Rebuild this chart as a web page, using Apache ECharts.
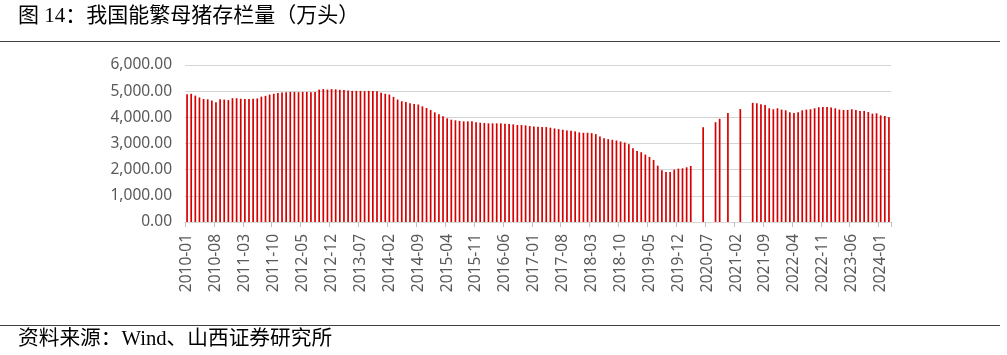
<!DOCTYPE html>
<html>
<head>
<meta charset="utf-8">
<script src="https://cdn.jsdelivr.net/npm/echarts@6/dist/echarts.min.js"></script>
<style>
html,body{margin:0;padding:0;background:#fff;}
#chart{width:1007px;height:355px;}
</style>
</head>
<body>
<div id="chart"></div>
<script>
// Chart texts
const titleText = '图 14：我国能繁母猪存栏量（万头）';
const sourceText = '资料来源：Wind、山西证券研究所';

// Categories: monthly, 2010-01 .. 2024-03
const startYear = 2010, endYear = 2024, endMonth = 3;
const categories = [];
for (let y = startYear; y <= endYear; y++) {
  for (let m = 1; m <= 12; m++) {
    if (y === endYear && m > endMonth) break;
    categories.push(y + '-' + (m < 10 ? '0' + m : '' + m));
  }
}

// Sow inventory (万头)
const values2010to2013 = [
  4880,4900,4830,4760,4700,4690,4640,4580,4690,4680,4660,4730,
  4730,4710,4700,4700,4710,4720,4790,4820,4870,4900,4930,4950,
  4960,4970,4970,4960,4970,4970,4960,4970,5060,5080,5060,5080,
  5070,5050,5040,5030,5010,5010,5010,5000,5010,5010,5000
];
const values2013to2020 = [
  4940,4900,4870,4780,4680,4615,4590,4540,4510,4490,
  4420,4360,4280,4190,4115,4040,3960,3910,3885,3860,
  3846,3846,3846,3808,3795,3782,3770,3770,3770,3770,
  3756,3744,3731,3705,3705,3692,3667,3654,3641,3628,
  3628,3603,3577,3551,3526,3500,3487,3462,3423,3410,
  3410,3397,3359,3269,3205,3167,3141,3115,3077,3038,
  2974,2821,2718,2667,2577,2487,2372,2154,1974,1910,
  1910,2000,2038,2051,2090,2141
];
// 2020-04 .. 2021-05 (missing months are null)
const values2020to2021 = [
  null,null,3620,null,null,3815,3945,null,4165,null,null,4315,null,null
];
// 2021-06 .. 2024-03
const values2021to2024 = [
  4555,4538,4500,4474,4346,4308,4346,4295,4269,4192,
  4167,4192,4269,4295,4308,4346,4385,4397,4397,4372,
  4346,4295,4282,4282,4308,4282,4244,4244,4205,4141,
  4154,4077,4051,4000
];
const sowStock = values2010to2013.concat(values2013to2020, values2020to2021, values2021to2024);

// Y axis ticks
const yMin = 0, yMax = 6000, yStep = 1000;

function fmt(v){
  const s = Math.round(v).toString().replace(/\B(?=(\d{3})+(?!\d))/g, ',');
  return s + '.00';
}

const chart = echarts.init(document.getElementById('chart'), null, {renderer:'canvas'});
chart.setOption({
  animation: false,
  backgroundColor: '#ffffff',
  grid: {left: 185, right: 116, top: 65, bottom: 133, containLabel: false},
  xAxis: {
    type: 'category',
    data: categories,
    boundaryGap: true,
    axisLine: {show: true, lineStyle: {color: '#d9d9d9', width: 1}},
    axisTick: {show: true, interval: 6, length: 5, lineStyle: {color: '#bfbfbf'}},
    axisLabel: {
      interval: 6, rotate: 90, margin: 12,
      color: '#595959', fontFamily: 'Noto Sans', fontSize: 15.5
    },
    splitLine: {show: false}
  },
  yAxis: {
    type: 'value',
    min: yMin, max: yMax, interval: yStep,
    axisLine: {show: false},
    axisTick: {show: false},
    axisLabel: {
      formatter: fmt, margin: 13,
      color: '#595959', fontFamily: 'Noto Sans', fontSize: 15.5
    },
    splitLine: {show: true, lineStyle: {color: '#d4d4d4', width: 1}}
  },
  series: [{
    type: 'bar',
    data: sowStock,
    barWidth: 1.7,
    itemStyle: {color: '#d60000'},
    emphasis: {disabled: true}
  }],
  graphic: [
    {type: 'text', left: 18, top: 6,
     style: {text: titleText, fill: '#000', font: '21px "Liberation Serif", "Noto Sans CJK SC"'}},
    {type: 'line', shape: {x1: 0, y1: 41.5, x2: 1000, y2: 41.5},
     style: {stroke: '#404040', lineWidth: 1}},
    {type: 'line', shape: {x1: 0, y1: 325.5, x2: 1000, y2: 325.5},
     style: {stroke: '#404040', lineWidth: 1}},
    {type: 'text', left: 18, top: 329,
     style: {text: sourceText, fill: '#000', font: '20.7px "Liberation Serif", "Noto Sans CJK SC"'}}
  ]
});
</script>
</body>
</html>
